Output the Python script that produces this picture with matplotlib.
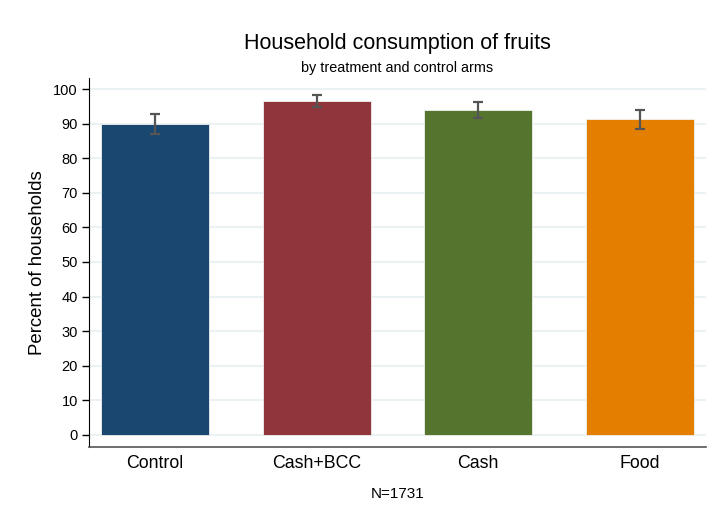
import matplotlib.pyplot as plt

plt.rcParams['font.family'] = ['Liberation Sans', 'DejaVu Sans']

arms = ['Control', 'Cash+BCC', 'Cash', 'Food']
share = [89.9, 96.5, 93.9, 91.2]
ci_low = [87.0, 94.8, 91.7, 88.5]
ci_high = [92.8, 98.2, 96.2, 93.9]
colors = ['#1a476f', '#90353b', '#55752f', '#e37e00']

fig = plt.figure(figsize=(7.16, 5.29), dpi=100)
ax = fig.add_axes([0.1243, 0.155, 0.8617, 0.6976])

x = list(range(len(arms)))
yerr = [[s - lo for s, lo in zip(share, ci_low)],
        [hi - s for s, hi in zip(share, ci_high)]]

ax.bar(x, share, width=0.667, color=colors, edgecolor='#f0f0f0', linewidth=0.6, zorder=2)
ax.errorbar(x, share, yerr=yerr, fmt='none', ecolor='#555555', elinewidth=1.6,
            capsize=3.3, capthick=1.6, zorder=3)

ax.set_xlim(-0.41, 3.41)
ax.set_ylim(-3.5, 103.2)
ax.set_yticks(range(0, 101, 10))
ax.set_xticks(x)
ax.set_xticklabels(arms, fontsize=12.8)
ax.tick_params(axis='x', length=0, pad=6)
ax.tick_params(axis='y', labelsize=10.5, length=5, width=1, pad=3)
ax.yaxis.grid(True, color='#eaf2f3', linewidth=1.5, zorder=0)
ax.set_axisbelow(True)

for side in ['top', 'right']:
    ax.spines[side].set_visible(False)
ax.spines['left'].set_color('#000000')
ax.spines['bottom'].set_color('#555555')
ax.spines['bottom'].set_linewidth(1.2)

ax.set_ylabel('Percent of households', fontsize=13.4, labelpad=5)

fig.text(0.555, 0.917, 'Household consumption of fruits', ha='center', va='center', fontsize=15.5)
fig.text(0.555, 0.872, 'by treatment and control arms', ha='center', va='center', fontsize=10.4)
fig.text(0.555, 0.066, 'N=1731', ha='center', va='center', fontsize=11)

fig.savefig('out.png', dpi=100, facecolor='white')
